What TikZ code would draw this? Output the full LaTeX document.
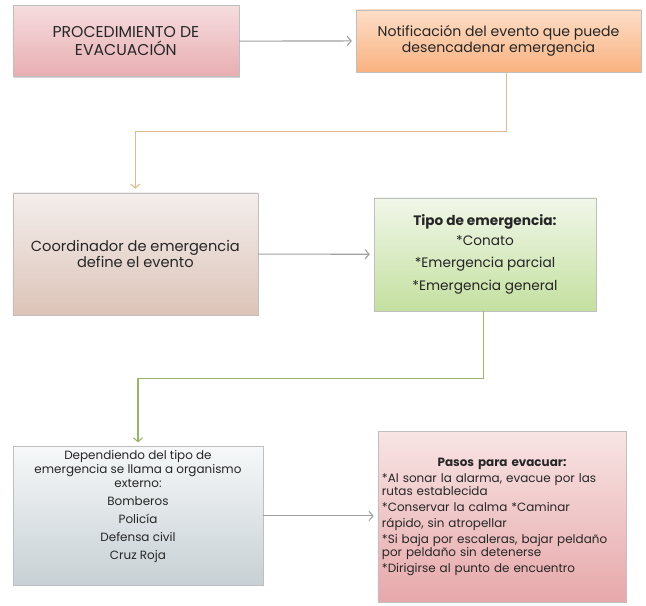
\documentclass[tikz,border=0pt]{standalone}
\usepackage{fontspec}
\setmainfont{Poppins}
\usetikzlibrary{arrows.meta,shadows}

\definecolor{linegray}{RGB}{160,160,160}
\definecolor{lineorange}{RGB}{222,186,140}
\definecolor{linegreen}{RGB}{155,180,108}
\definecolor{inkgray}{RGB}{38,38,38}

\begin{document}
\begin{tikzpicture}[
  box/.style={rectangle, draw=gray!50, line width=0.4pt, align=center, text=inkgray, inner sep=3pt,
    drop shadow={opacity=0.35, shadow xshift=0.6pt, shadow yshift=-0.9pt}},
  arrow/.style={-{Straight Barb[length=3pt,width=7pt]}, line width=0.8pt, shorten >=3pt},
]
\useasboundingbox (0,0) rectangle (17.09,16.03);

% === TOP ROW ===
\node[box, top color={rgb,255:red,245;green,220;blue,222}, bottom color={rgb,255:red,232;green,174;blue,178},
  minimum width=5.98cm, minimum height=1.88cm, font=\fontsize{11.8}{13.5}\selectfont] (proc) at (3.33,14.94)
  {PROCEDIMIENTO DE\\EVACUACIÓN};
\node[box, top color={rgb,255:red,253;green,222;blue,200}, bottom color={rgb,255:red,249;green,178;blue,128},
  minimum width=7.54cm, minimum height=1.64cm, font=\fontsize{10.6}{12}\selectfont] (notif) at (13.19,14.95)
  {Notificación del evento que puede\\desencadenar emergencia};

% === MIDDLE ROW ===
\node[box, top color={rgb,255:red,243;green,238;blue,236}, bottom color={rgb,255:red,221;green,196;blue,184},
  minimum width=6.48cm, minimum height=3.23cm, font=\fontsize{11}{12.75}\selectfont] (coord) at (3.58,9.31)
  {Coordinador de emergencia\\define el evento};
\node[box, top color={rgb,255:red,241;green,247;blue,233}, bottom color={rgb,255:red,196;green,224;blue,160},
  minimum width=5.87cm, minimum height=2.99cm, font=\fontsize{10.3}{17}\selectfont] (tipo) at (12.83,9.30)
  {\textbf{Tipo de emergencia:}\\[-2pt]*Conato\\{}*Emergencia parcial\\{}*Emergencia general};

% === BOTTOM ROW ===
\node[box, top color={rgb,255:red,246;green,248;blue,249}, bottom color={rgb,255:red,199;green,208;blue,212},
  minimum width=6.61cm, minimum height=3.60cm, font=\fontsize{9}{10.5}\selectfont] (extern) at (3.65,2.38)
  {Dependiendo del tipo de\\emergencia se llama a organismo\\externo:\\[3pt]Bomberos\\[3pt]Policía\\[3pt]Defensa civil\\[3pt]Cruz Roja\\[6pt]};
\node[box, top color={rgb,255:red,248;green,228;blue,228}, bottom color={rgb,255:red,231;green,168;blue,170},
  minimum width=6.51cm, minimum height=4.50cm, text width=6.35cm, align=left, font=\fontsize{9}{10}\selectfont] (pasos) at (13.28,2.36)
  {\centerline{\textbf{Pasos para evacuar:}}\\[2pt]
   {}*Al sonar la alarma, evacue por las\\{}rutas establecida\\[2pt]
   {}*Conservar la calma *Caminar\\[2pt]{}rápido, sin atropellar\\[2pt]
   {}*Si baja por escaleras, bajar peldaño\\{}por peldaño sin detenerse\\[2pt]
   {}*Dirigirse al punto de encuentro\\[10pt]};

% === CONNECTORS ===
\coordinate (bend1) at (13.39,12.54);
\coordinate (bend2) at (12.80,6.01);

\draw[arrow, linegray] (proc) -- (notif);
\draw[arrow, lineorange] (notif.south -| bend1) -- (bend1) -| (coord.north);
\draw[arrow, linegray] (coord) -- (tipo);
\draw[arrow, linegreen] (tipo.south -| bend2) -- (bend2) -| (extern.north);
\draw[arrow, linegray] (extern) -- (pasos.west |- extern);
\end{tikzpicture}
\end{document}
